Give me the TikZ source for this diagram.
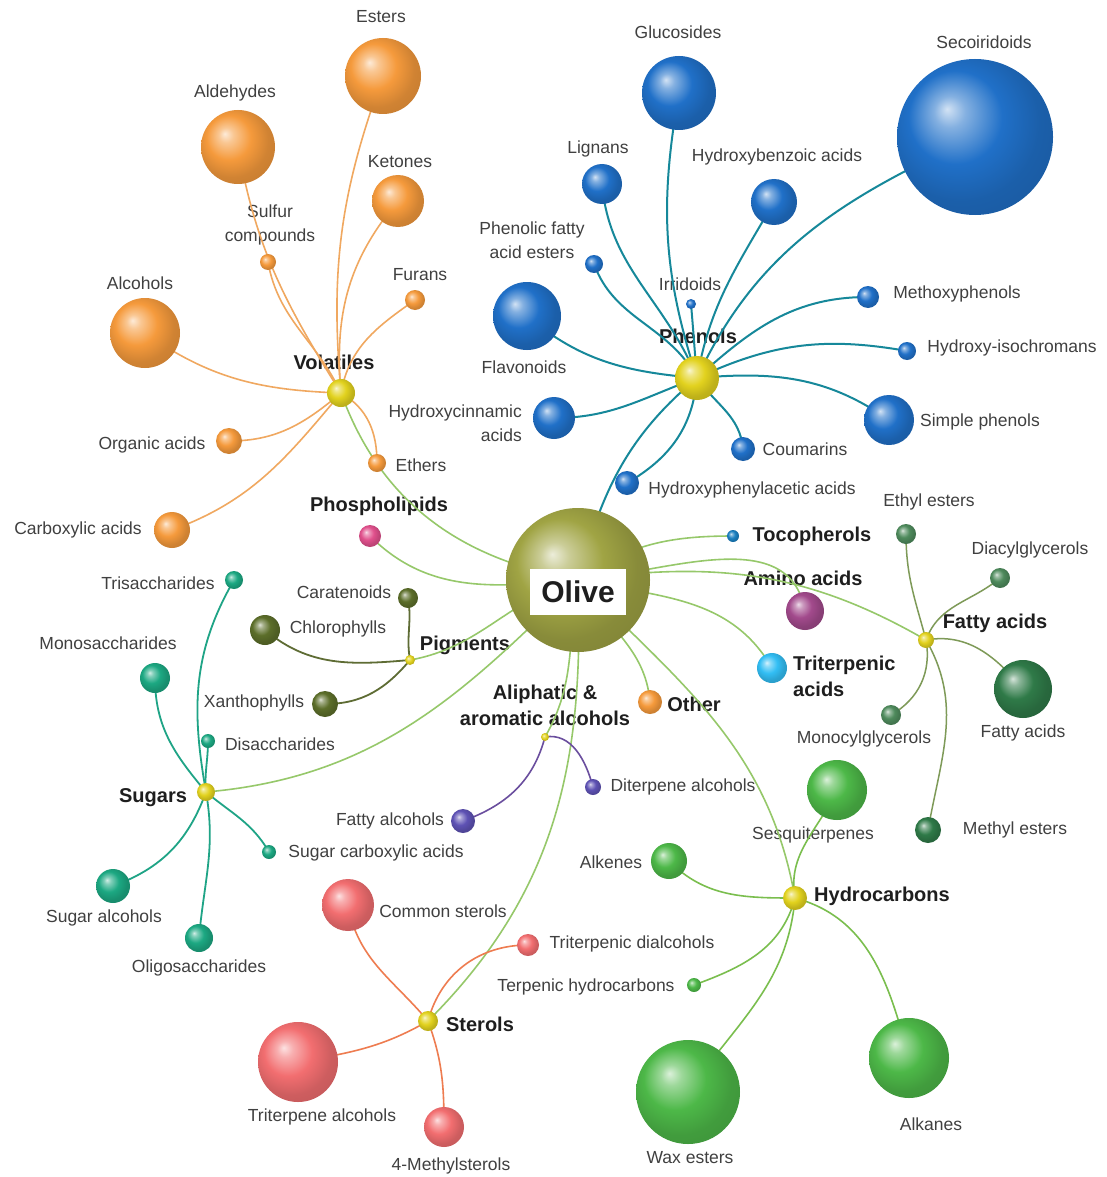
\documentclass[tikz,border=0pt]{standalone}
\usepackage{fontspec}
\setmainfont{Liberation Sans}
\usetikzlibrary{backgrounds}
\pgfdeclarelayer{lines}
\pgfdeclarelayer{labels}
\pgfsetlayers{background,labels,lines,main}
\colorlet{ballc}{gray}
\pgfdeclareradialshading[ballc]{myball}{\pgfqpoint{-9bp}{9bp}}{color(0bp)=(ballc!20!white); color(5bp)=(ballc!55!white); color(15bp)=(ballc); color(25bp)=(ballc!85!black); color(50bp)=(ballc!72!black)}
\definecolor{cOr}{HTML}{F59A3C}
\definecolor{cBl}{HTML}{2070C8}
\definecolor{cHub}{HTML}{E2D21E}
\definecolor{cOlive}{HTML}{A0A444}
\definecolor{cPink}{HTML}{E0508C}
\definecolor{cPig}{HTML}{5C6E2A}
\definecolor{cSug}{HTML}{1CA882}
\definecolor{cPur}{HTML}{5E52B4}
\definecolor{cAmino}{HTML}{A24A8C}
\definecolor{cTri}{HTML}{32BEF4}
\definecolor{cFa}{HTML}{2F7A48}
\definecolor{cFaS}{HTML}{4E8A5C}
\definecolor{cSt}{HTML}{F26E70}
\definecolor{cHc}{HTML}{4DB848}
\definecolor{cToc}{HTML}{1A7FC0}
\definecolor{lOr}{HTML}{F0A860}
\definecolor{lTeal}{HTML}{16889A}
\definecolor{lMain}{HTML}{96C86A}
\definecolor{lPig}{HTML}{5E6C34}
\definecolor{lFa}{HTML}{7E9A58}
\definecolor{lSug}{HTML}{1FA486}
\definecolor{lPur}{HTML}{6A4E9E}
\definecolor{lSt}{HTML}{EE7C50}
\definecolor{lHc}{HTML}{7ABE4E}
\definecolor{tx}{HTML}{404040}
\definecolor{tb}{HTML}{1E1E1E}
\tikzset{
  bl/.style 2 args={circle,inner sep=0pt,minimum size=#2pt,/utils/exec={\colorlet{ballc}{#1}},shade,shading=myball},
  lab/.style={font=\fontsize{17.5}{24}\selectfont,text=tx,inner sep=1pt},
  blab/.style={font=\bfseries\fontsize{20}{26}\selectfont,text=tb,inner sep=1pt},
  lnOr/.style={draw=lOr,line width=1.6pt},
  lnTeal/.style={draw=lTeal,line width=2pt},
  lnMain/.style={draw=lMain,line width=1.6pt},
  lnPig/.style={draw=lPig,line width=1.8pt},
  lnFa/.style={draw=lFa,line width=1.5pt},
  lnSug/.style={draw=lSug,line width=1.8pt},
  lnPur/.style={draw=lPur,line width=1.6pt},
  lnSt/.style={draw=lSt,line width=1.6pt},
  lnHc/.style={draw=lHc,line width=1.6pt},
}
\begin{document}
\begin{tikzpicture}[x=1pt,y=1pt]
\useasboundingbox (0,0) rectangle (1107,-1177);
\begin{pgfonlayer}{background}
\fill[white] (0,0) rectangle (1107,-1177);
\end{pgfonlayer}
% ---------- balls ----------
\node[bl={cOlive}{144}] (olive) at (578,-580) {};
\node[fill=white,minimum width=96pt,minimum height=46pt,inner sep=0pt,font=\bfseries\fontsize{30}{32}\selectfont,text=tb] (olivelab) at (578,-592) {Olive};
% volatiles
\node[bl={cHub}{28}] (vol) at (341,-393) {};
\node[bl={cOr}{76}] (esters) at (383,-76) {};
\node[bl={cOr}{74}] (ald) at (238,-147) {};
\node[bl={cOr}{52}] (ket) at (398,-201) {};
\node[bl={cOr}{16}] (sulf) at (268,-262) {};
\node[bl={cOr}{20}] (fur) at (415,-300) {};
\node[bl={cOr}{70}] (alc) at (145,-333) {};
\node[bl={cOr}{26}] (org) at (229,-441) {};
\node[bl={cOr}{18}] (eth) at (377,-463) {};
\node[bl={cOr}{36}] (carb) at (172,-530) {};
\node[bl={cPink}{22}] (phos) at (370,-536) {};
% phenols
\node[bl={cHub}{44}] (phen) at (697,-378) {};
\node[bl={cBl}{74}] (gluc) at (679,-93) {};
\node[bl={cBl}{156}] (seco) at (975,-137) {};
\node[bl={cBl}{40}] (lign) at (602,-184) {};
\node[bl={cBl}{46}] (hba) at (774,-202) {};
\node[bl={cBl}{18}] (pfae) at (594,-264) {};
\node[bl={cBl}{10}] (irr) at (691,-304) {};
\node[bl={cBl}{68}] (flav) at (527,-316) {};
\node[bl={cBl}{22}] (meth) at (868,-297) {};
\node[bl={cBl}{18}] (hic) at (907,-351) {};
\node[bl={cBl}{42}] (hca) at (554,-418) {};
\node[bl={cBl}{50}] (simp) at (889,-420) {};
\node[bl={cBl}{24}] (coum) at (743,-449) {};
\node[bl={cBl}{24}] (hpa) at (627,-483) {};
% singles
\node[bl={cToc}{12}] (toco) at (733,-536) {};
\node[bl={cAmino}{38}] (amino) at (805,-611) {};
\node[bl={cTri}{30}] (tria) at (772,-668) {};
\node[bl={cOr}{24}] (other) at (650,-702) {};
% fatty acids
\node[bl={cHub}{16}] (fat) at (926,-640) {};
\node[bl={cFaS}{20}] (ethyl) at (906,-534) {};
\node[bl={cFaS}{20}] (diac) at (1000,-578) {};
\node[bl={cFa}{58}] (fatb) at (1023,-689) {};
\node[bl={cFaS}{20}] (mono) at (891,-715) {};
\node[bl={cFa}{26}] (mest) at (928,-830) {};
% pigments
\node[bl={cHub}{10}] (pig) at (410,-660) {};
\node[bl={cPig}{20}] (cara) at (408,-598) {};
\node[bl={cPig}{30}] (chlo) at (265,-630) {};
\node[bl={cPig}{26}] (xant) at (325,-704) {};
% sugars
\node[bl={cHub}{18}] (sug) at (206,-792) {};
\node[bl={cSug}{18}] (tris) at (234,-580) {};
\node[bl={cSug}{30}] (monos) at (155,-678) {};
\node[bl={cSug}{14}] (dis) at (208,-741) {};
\node[bl={cSug}{14}] (scarb) at (269,-852) {};
\node[bl={cSug}{34}] (salc) at (113,-886) {};
\node[bl={cSug}{28}] (oligo) at (199,-938) {};
% aliphatic
\node[bl={cHub}{8}] (ali) at (545,-737) {};
\node[bl={cPur}{24}] (falc) at (463,-821) {};
\node[bl={cPur}{16}] (dite) at (593,-787) {};
% sterols
\node[bl={cHub}{20}] (ster) at (428,-1021) {};
\node[bl={cSt}{52}] (comm) at (348,-905) {};
\node[bl={cSt}{22}] (tdial) at (528,-945) {};
\node[bl={cSt}{80}] (talc) at (298,-1062) {};
\node[bl={cSt}{40}] (mster) at (444,-1127) {};
% hydrocarbons
\node[bl={cHub}{24}] (hyd) at (795,-898) {};
\node[bl={cHc}{60}] (sesq) at (837,-790) {};
\node[bl={cHc}{36}] (alke) at (669,-861) {};
\node[bl={cHc}{14}] (terp) at (694,-985) {};
\node[bl={cHc}{104}] (wax) at (688,-1092) {};
\node[bl={cHc}{80}] (alka) at (909,-1058) {};
% ---------- labels ----------
\begin{pgfonlayer}{labels}
\node[lab] (t1) at (381,-17) {Esters};
\node[lab] (t2) at (235,-93) {Aldehydes};
\node[lab] (t3) at (400,-162) {Ketones};
\node[lab,align=center] (t4) at (270,-225) {Sulfur\\compounds};
\node[lab] (t5) at (420,-275) {Furans};
\node[lab] (t6) at (140,-283) {Alcohols};
\node[blab] (t7) at (334,-362) {Volatiles};
\node[lab] (t8) at (152,-445) {Organic acids};
\node[lab] (t9) at (421,-465) {Ethers};
\node[lab] (t10) at (78,-530) {Carboxylic acids};
\node[blab] (t11) at (379,-506) {Phospholipids};
\node[lab] (t12) at (678,-32) {Glucosides};
\node[lab] (t13) at (984,-42) {Secoiridoids};
\node[lab] (t14) at (598,-149) {Lignans};
\node[lab] (t15) at (777,-157) {Hydroxybenzoic acids};
\node[lab,align=center] (t16) at (532,-240) {Phenolic fatty\\acid esters};
\node[lab] (t17) at (690,-284) {Irridoids};
\node[blab] (t18) at (698,-336) {Phenols};
\node[lab] (t19) at (957,-294) {Methoxyphenols};
\node[lab] (t20) at (1012,-348) {Hydroxy-isochromans};
\node[lab] (t21) at (524,-367) {Flavonoids};
\node[lab,align=right,anchor=east] (t22) at (523,-423) {Hydroxycinnamic\\acids};
\node[lab] (t23) at (980,-422) {Simple phenols};
\node[lab] (t24) at (805,-449) {Coumarins};
\node[lab] (t25) at (752,-490) {Hydroxyphenylacetic acids};
\node[blab] (t26) at (812,-536) {Tocopherols};
\node[lab] (t27) at (929,-502) {Ethyl esters};
\node[lab] (t28) at (1030,-550) {Diacylglycerols};
\node[blab] (t29) at (803,-578) {Amino acids};
\node[blab] (t30) at (995,-623) {Fatty acids};
\node[blab,align=left,anchor=west] (t31) at (792,-676) {Triterpenic\\acids};
\node[blab] (t32) at (694,-704) {Other};
\node[lab] (t33) at (1023,-733) {Fatty acids};
\node[lab] (t34) at (864,-739) {Monocylglycerols};
\node[lab] (t35) at (344,-592) {Caratenoids};
\node[lab] (t36) at (338,-629) {Chlorophylls};
\node[blab] (t37) at (465,-645) {Pigments};
\node[lab] (t38) at (254,-703) {Xanthophylls};
\node[blab,align=center] (t39) at (545,-705) {Aliphatic \&\\aromatic alcohols};
\node[lab] (t40) at (158,-583) {Trisaccharides};
\node[lab] (t41) at (108,-643) {Monosaccharides};
\node[lab] (t42) at (280,-744) {Disaccharides};
\node[blab] (t43) at (153,-798) {Sugars};
\node[lab] (t44) at (390,-821) {Fatty alcohols};
\node[lab] (t45) at (683,-787) {Diterpene alcohols};
\node[lab] (t46) at (376,-853) {Sugar carboxylic acids};
\node[lab] (t47) at (104,-918) {Sugar alcohols};
\node[lab] (t48) at (199,-968) {Oligosaccharides};
\node[lab] (t49) at (813,-835) {Sesquiterpenes};
\node[lab] (t50) at (1015,-830) {Methyl esters};
\node[lab] (t51) at (611,-862) {Alkenes};
\node[blab] (t52) at (882,-896) {Hydrocarbons};
\node[lab] (t53) at (443,-911) {Common sterols};
\node[lab] (t54) at (632,-944) {Triterpenic dialcohols};
\node[lab] (t55) at (586,-987) {Terpenic hydrocarbons};
\node[blab] (t56) at (480,-1024) {Sterols};
\node[lab] (t57) at (322,-1117) {Triterpene alcohols};
\node[lab] (t58) at (451,-1166) {4-Methylsterols};
\node[lab] (t59) at (690,-1158) {Wax esters};
\node[lab] (t60) at (931,-1124) {Alkanes};
\end{pgfonlayer}
% ---------- connectors ----------
\begin{pgfonlayer}{lines}
% volatiles
\draw[lnOr] (vol.center) to[out=95,in=250] (esters.center);
\draw[lnOr] (vol.center) to[out=122,in=280] (ald.center);
\draw[lnOr] (vol.center) to[out=115,in=280] (sulf.center);
\draw[lnOr] (vol.center) to[out=95,in=230] (ket.center);
\draw[lnOr] (vol.center) to[out=80,in=215] (fur.center);
\draw[lnOr] (vol.center) to[out=178,in=-35] (alc.center);
\draw[lnOr] (vol.center) to[out=220,in=0] (org.center);
\draw[lnOr] (vol.center) to[out=230,in=20] (carb.center);
\draw[lnOr] (vol.center) to[out=-30,in=90] (eth.center);
% phenols
\draw[lnTeal] (phen.center) to[out=108,in=-100] (gluc.center);
\draw[lnTeal] (phen.center) to[out=65,in=205] (seco.center);
\draw[lnTeal] (phen.center) to[out=112,in=-85] (lign.center);
\draw[lnTeal] (phen.center) to[out=80,in=240] (hba.center);
\draw[lnTeal] (phen.center) to[out=118,in=-70] (pfae.center);
\draw[lnTeal] (phen.center) to[out=95,in=-85] (irr.center);
\draw[lnTeal] (phen.center) to[out=175,in=-40] (flav.center);
\draw[lnTeal] (phen.center) to[out=42,in=180] (meth.center);
\draw[lnTeal] (phen.center) to[out=25,in=170] (hic.center);
\draw[lnTeal] (phen.center) to[out=200,in=0] (hca.center);
\draw[lnTeal] (phen.center) to[out=5,in=145] (simp.center);
\draw[lnTeal] (phen.center) to[out=-55,in=95] (coum.center);
\draw[lnTeal] (phen.center) to[out=-95,in=30] (hpa.center);
\draw[lnTeal] (phen.center) to[out=-140,in=75] (olive.center);
% olive main connections
\draw[lnMain] (vol.center) to[out=-70,in=170] (olive.center);
\draw[lnMain] (olive.center) to[out=185,in=-45] (phos.center);
\draw[lnMain] (olive.center) to[out=35,in=180] (toco.center);
\draw[lnMain] (olive.center) to[out=5,in=100] (amino.center);
\draw[lnMain] (olive.center) to[out=8,in=150] (fat.center);
\draw[lnMain] (olive.center) to[out=-12,in=120] (tria.center);
\draw[lnMain] (olive.center) to[out=-60,in=95] (other.center);
\draw[lnMain] (olive.center) to[out=-45,in=100] (hyd.center);
\draw[lnMain] (olive.center) to[out=-88,in=45] (ster.center);
\draw[lnMain] (olive.center) to[out=-100,in=60] (ali.center);
\draw[lnMain] (olive.center) to[out=-135,in=5] (sug.center);
\draw[lnMain] (olive.center) to[out=-165,in=10] (pig.center);
% pigments
\draw[lnPig] (pig.center) to[out=100,in=-80] (cara.center);
\draw[lnPig] (pig.center) to[out=185,in=-40] (chlo.center);
\draw[lnPig] (pig.center) to[out=-130,in=0] (xant.center);
% fatty acids
\draw[lnFa] (fat.center) to[out=105,in=-90] (ethyl.center);
\draw[lnFa] (fat.center) to[out=70,in=220] (diac.center);
\draw[lnFa] (fat.center) to[out=10,in=130] (fatb.center);
\draw[lnFa] (fat.center) to[out=-80,in=30] (mono.center);
\draw[lnFa] (fat.center) to[out=-60,in=80] (mest.center);
% sugars
\draw[lnSug] (sug.center) to[out=100,in=-120] (tris.center);
\draw[lnSug] (sug.center) to[out=130,in=-90] (monos.center);
\draw[lnSug] (sug.center) to[out=95,in=-90] (dis.center);
\draw[lnSug] (sug.center) to[out=-40,in=120] (scarb.center);
\draw[lnSug] (sug.center) to[out=-110,in=20] (salc.center);
\draw[lnSug] (sug.center) to[out=-80,in=85] (oligo.center);
% aliphatic
\draw[lnPur] (ali.center) to[out=-105,in=20] (falc.center);
\draw[lnPur] (ali.center) to[out=10,in=105] (dite.center);
% sterols
\draw[lnSt] (ster.center) to[out=130,in=-80] (comm.center);
\draw[lnSt] (ster.center) to[out=75,in=180] (tdial.center);
\draw[lnSt] (ster.center) to[out=-150,in=10] (talc.center);
\draw[lnSt] (ster.center) to[out=-70,in=90] (mster.center);
% hydrocarbons
\draw[lnHc] (hyd.center) to[out=100,in=-115] (sesq.center);
\draw[lnHc] (hyd.center) to[out=180,in=-45] (alke.center);
\draw[lnHc] (hyd.center) to[out=-105,in=20] (terp.center);
\draw[lnHc] (hyd.center) to[out=-95,in=55] (wax.center);
\draw[lnHc] (hyd.center) to[out=-15,in=105] (alka.center);
\end{pgfonlayer}
\end{tikzpicture}
\end{document}
